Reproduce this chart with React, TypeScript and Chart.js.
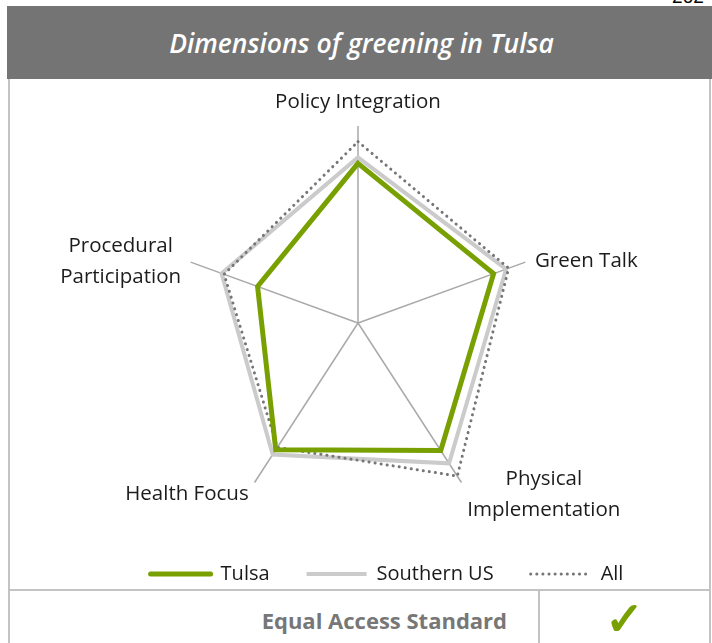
import React, { useEffect, useRef } from 'react';
import { Chart, registerables, RadialLinearScale } from 'chart.js';

Chart.register(...registerables);

// ---------- data ----------
const CATEGORIES: (string | string[])[] = [
  'Policy Integration',
  'Green Talk',
  ['Physical', 'Implementation'],
  'Health Focus',
  ['Procedural', 'Participation'],
];
const SERIES_NAMES = ['Tulsa', 'Southern US', 'All'];
const TULSA = [0.81, 0.81, 0.8, 0.795, 0.6];
const SOUTHERN_US = [0.84, 0.885, 0.88, 0.825, 0.815];
const ALL = [0.92, 0.9, 0.96, 0.78, 0.8];
const SCALE_MIN = 0;
const SCALE_MAX = 1;

const TITLE = 'Dimensions of greening in Tulsa';
const FOOTER_LABEL = 'Equal Access Standard';
const PAGE_NUMBER = '262';

// ---------- style ----------
const FONT = '"Open Sans", "DejaVu Sans", sans-serif';
const GREEN = '#78a000';
const LIGHT_GRAY = '#cbcbcb';
const DOT_GRAY = '#767676';
const FRAME_GRAY = '#c3c3c3';
const Y_STRETCH = 1.12;

class StretchedRadialScale extends RadialLinearScale {
  static id = 'stretchedRadial';
  getPointPosition(index: number, distanceFromCenter: number, angle = 0) {
    const p: any = super.getPointPosition(index, distanceFromCenter, angle);
    return {
      x: p.x,
      y: (this as any).yCenter + (p.y - (this as any).yCenter) * Y_STRETCH,
      angle: p.angle,
    };
  }
}
Chart.register(StretchedRadialScale as any);

const LABEL_GAP = 10;
const LABEL_LINE_H = 31;
const LABEL_FONT_SIZE = 20.5;
const LABEL_BASELINE_SHIFT = 3;

const axisTitlePlugin = {
  id: 'axisTitles',
  afterDatasetsDraw(chart: any) {
    const scale = chart.scales.r;
    const ctx = chart.ctx as CanvasRenderingContext2D;
    ctx.save();
    ctx.font = `${LABEL_FONT_SIZE}px ${FONT}`;
    ctx.fillStyle = '#1c1c1c';
    ctx.textAlign = 'center';
    ctx.textBaseline = 'middle';
    const labels = chart.data.labels as (string | string[])[];
    labels.forEach((lab, i) => {
      const p = scale.getPointPosition(i, scale.drawingArea + LABEL_GAP);
      const dx = p.x - scale.xCenter;
      const dy = p.y - scale.yCenter;
      const lines = Array.isArray(lab) ? lab : [lab];
      const blockW = Math.max(...lines.map((l) => ctx.measureText(l).width));
      const blockH = lines.length * LABEL_LINE_H;
      let left: number;
      if (Math.abs(dx) < 1) left = p.x - blockW / 2;
      else if (dx > 0) left = p.x;
      else left = p.x - blockW;
      let top: number;
      if (Math.abs(dx) < 1 && dy < 0) top = p.y - blockH;
      else top = p.y - blockH / 2;
      lines.forEach((l, k) => {
        ctx.fillText(l, left + blockW / 2, top + LABEL_LINE_H * (k + 0.5) + LABEL_BASELINE_SHIFT);
      });
    });
    ctx.restore();
  },
};

function RadarChart() {
  const ref = useRef<HTMLCanvasElement | null>(null);
  useEffect(() => {
    let chart: Chart | null = null;
    let cancelled = false;
    const make = () => {
      if (cancelled || !ref.current) return;
      Chart.defaults.font.family = FONT;
      chart = new Chart(ref.current, {
        type: 'radar',
        data: {
          labels: CATEGORIES as any,
          datasets: [
            {
              label: SERIES_NAMES[0],
              data: TULSA,
              borderColor: GREEN,
              backgroundColor: GREEN,
              borderWidth: 5,
              borderJoinStyle: 'miter',
              borderCapStyle: 'round',
              fill: false,
              pointRadius: 0,
              pointHoverRadius: 0,
              order: 0,
              clip: false,
            } as any,
            {
              label: SERIES_NAMES[1],
              data: SOUTHERN_US,
              borderColor: LIGHT_GRAY,
              backgroundColor: LIGHT_GRAY,
              borderWidth: 4,
              borderJoinStyle: 'miter',
              borderCapStyle: 'butt',
              fill: false,
              pointRadius: 0,
              pointHoverRadius: 0,
              order: 2,
              clip: false,
            } as any,
            {
              label: SERIES_NAMES[2],
              data: ALL,
              borderColor: DOT_GRAY,
              backgroundColor: DOT_GRAY,
              borderWidth: 3,
              borderDash: [0.1, 6],
              borderCapStyle: 'round',
              borderJoinStyle: 'round',
              fill: false,
              pointRadius: 0,
              pointHoverRadius: 0,
              order: 1,
              clip: false,
            } as any,
          ],
        },
        options: {
          animation: false,
          responsive: false,
          events: [],
          layout: { padding: { left: 55, right: 0, top: 67, bottom: 0 } },
          scales: {
            r: {
              type: 'stretchedRadial',
              min: SCALE_MIN,
              max: SCALE_MAX,
              ticks: { display: false },
              grid: { display: false },
              angleLines: { display: true, color: '#a9a9a9', lineWidth: 1.5 },
              pointLabels: { display: false },
            } as any,
          },
          plugins: {
            legend: {
              position: 'bottom',
              title: { display: true, text: '', font: { size: 10 }, padding: { top: 16, bottom: 0 } },
              labels: {
                usePointStyle: true,
                pointStyle: 'line',
                pointStyleWidth: 60,
                padding: 37,
                color: '#1a1a1a',
                font: { size: 20, family: FONT },
                sort: (a: any, b: any) => a.datasetIndex - b.datasetIndex,
                generateLabels: (c: any) =>
                  (Chart.defaults.plugins.legend.labels.generateLabels as any)(c).map((item: any) => {
                    const ds = c.data.datasets[item.datasetIndex];
                    return {
                      ...item,
                      pointStyle: 'line',
                      strokeStyle: ds.borderColor,
                      fillStyle: ds.borderColor,
                      lineWidth: ds.borderWidth,
                      lineDash: ds.borderDash || [],
                      lineCap: ds.borderCapStyle || 'butt',
                    };
                  }),
              },
            } as any,
            subtitle: {
              display: true,
              position: 'right',
              fullSize: false,
              text: '',
              font: { size: 10 },
              padding: { top: 46, bottom: 0 },
            } as any,
            tooltip: { enabled: false },
          },
        },
        plugins: [axisTitlePlugin],
      } as any);
    };
    const fontsApi = (document as any).fonts;
    if (fontsApi && fontsApi.load) {
      Promise.all([
        fontsApi.load(`20px "Open Sans"`),
        fontsApi.load(`bold 20px "Open Sans"`),
      ])
        .catch(() => undefined)
        .then(make);
    } else {
      make();
    }
    return () => {
      cancelled = true;
      if (chart) chart.destroy();
    };
  }, []);
  return (
    <canvas
      ref={ref}
      width={699}
      height={514}
      style={{ position: 'absolute', left: 10, top: 80, width: 699, height: 514 }}
    />
  );
}

export default function App() {
  useEffect(() => {
    document.body.style.margin = '0';
  }, []);
  return (
    <div
      style={{
        position: 'relative',
        width: 712,
        height: 643,
        overflow: 'hidden',
        background: '#ffffff',
        fontFamily: FONT,
      }}
    >
      <div
        style={{
          position: 'absolute',
          left: 672,
          top: -13,
          fontFamily: 'Arial, "Liberation Sans", sans-serif',
          fontSize: 19,
          lineHeight: '19px',
          color: '#000',
        }}
      >
        {PAGE_NUMBER}
      </div>
      <div
        style={{
          position: 'absolute',
          left: 7,
          top: 6,
          width: 705,
          height: 73,
          background: '#747474',
          color: '#ffffff',
          display: 'flex',
          alignItems: 'center',
          justifyContent: 'center',
          fontStyle: 'italic',
          fontWeight: 600,
          fontSize: 26.5,
          paddingLeft: 4,
          boxSizing: 'border-box',
        }}
      >
        {TITLE}
      </div>
      {/* frame */}
      <div style={{ position: 'absolute', left: 8, top: 79, width: 2, height: 564, background: FRAME_GRAY }} />
      <div style={{ position: 'absolute', left: 709, top: 79, width: 2, height: 564, background: FRAME_GRAY }} />
      <div style={{ position: 'absolute', left: 8, top: 589, width: 703, height: 2, background: FRAME_GRAY }} />
      <div style={{ position: 'absolute', left: 538, top: 589, width: 2, height: 54, background: FRAME_GRAY }} />
      <RadarChart />
      <div
        style={{
          position: 'absolute',
          left: 120,
          top: 602,
          width: 387,
          textAlign: 'right',
          fontWeight: 700,
          fontSize: 22,
          lineHeight: '36px',
          color: '#777777',
        }}
      >
        {FOOTER_LABEL}
      </div>
      <div
        style={{
          position: 'absolute',
          left: 540,
          top: 594,
          width: 169,
          textAlign: 'center',
          fontFamily: '"DejaVu Sans", sans-serif',
          fontSize: 46,
          lineHeight: '50px',
          color: GREEN,
          WebkitTextStroke: `1.5px ${GREEN}`,
        }}
      >
        ✓
      </div>
    </div>
  );
}
